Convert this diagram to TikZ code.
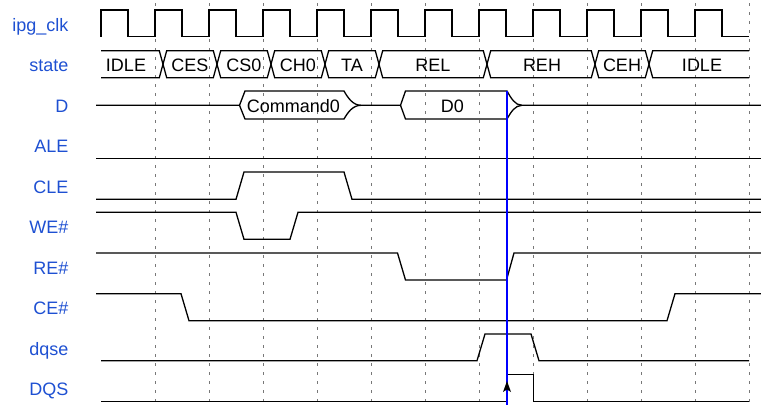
\documentclass[tikz,border=0pt]{standalone}
\usepackage{fontspec}
\setmainfont{Liberation Sans}
\usetikzlibrary{arrows.meta}
\definecolor{lblue}{RGB}{30,80,210}
\definecolor{gridgray}{RGB}{120,120,120}
\begin{document}
\begin{tikzpicture}[x=1pt,y=-1pt,
  lbl/.style={anchor=base east, text=lblue, inner sep=0pt, font=\fontsize{18}{20}\selectfont},
  val/.style={anchor=base, inner sep=0pt, font=\fontsize{18}{20}\selectfont},
  sig/.style={line width=1.3pt, line join=miter},
  gridline/.style={gridgray, line width=0.6pt, dash pattern=on 2.5pt off 6.5pt},
  marker/.style={blue, line width=1.6pt}]
\useasboundingbox (0,0) rectangle (761,405);
% grid
\foreach \k in {0,...,11}{
  \draw[gridline] ({155+54*\k},3) -- ({155+54*\k},405);
}
% labels
\node[lbl] (lclk) at (68.5,31.2) {ipg\_clk};
\node[lbl] (lstate) at (68.5,71.7) {state};
\node[lbl] (lD) at (68.5,112.2) {D};
\node[lbl] (lALE) at (68.5,152.7) {ALE};
\node[lbl] (lCLE) at (68.5,193.2) {CLE};
\node[lbl] (lWE) at (68.5,233.7) {WE\#};
\node[lbl] (lRE) at (68.5,274.2) {RE\#};
\node[lbl] (lCE) at (68.5,314.7) {CE\#};
\node[lbl] (ldqse) at (68.5,355.2) {dqse};
\node[lbl] (lDQS) at (68.5,395.7) {DQS};
% clock
\draw[sig] (101,36.7) \foreach \k in {0,...,10}{ -- ({101+54*\k},10) -- ({128+54*\k},10) -- ({128+54*\k},36.7) -- ({155+54*\k},36.7)} -- (695,10) -- (722,10) -- (722,36.7) -- (749,36.7);
% state bus
\def\T{50.7}\def\B{77.7}\def\M{64.2}
\draw[sig] (101,\T) -- (159.3,\T) -- (163,\M) -- (159.3,\B) -- (101,\B);
\foreach \a/\b in {163/217,217/271,271/325,325/379,379/487,487/595,595/649}{
  \draw[sig] (\a,\M) -- ({\a+3.7},\T) -- ({\b-3.7},\T) -- (\b,\M) -- ({\b-3.7},\B) -- ({\a+3.7},\B) -- cycle;
}
\draw[sig] (749,\T) -- (652.7,\T) -- (649,\M) -- (652.7,\B) -- (749,\B);
\node[val] (s1) at (126,71.7) {IDLE};
\node[val] (s2) at (190,71.7) {CES};
\node[val] (s3) at (244,71.7) {CS0};
\node[val] (s4) at (298,71.7) {CH0};
\node[val] (s5) at (352,71.7) {TA};
\node[val] (s6) at (433,71.7) {REL};
\node[val] (s7) at (542,71.7) {REH};
\node[val] (s8) at (622,71.7) {CEH};
\node[val] (s9) at (702,71.7) {IDLE};
% D bus
\def\DT{91}\def\DB{119}\def\DM{105.3}
\draw[sig] (96,\DM) -- (239.5,\DM) -- (245,\DT) -- (344,\DT) .. controls (348,98) and (353,\DM) .. (361,\DM)
  -- (400.5,\DM) -- (405.5,\DT) -- (507,\DT) .. controls (511,98) and (515,\DM) .. (522,\DM) -- (761,\DM);
\draw[sig] (239.5,\DM) -- (245,\DB) -- (344,\DB) .. controls (348,112) and (353,\DM) .. (361,\DM);
\draw[sig] (400.5,\DM) -- (405.5,\DB) -- (507,\DB) .. controls (511,112) and (515,\DM) .. (522,\DM);
\node[val] (dcmd) at (293.5,112.3) {Command0};
\node[val] (dd0) at (452.5,112.3) {D0};
% control signals
\draw[sig] (96,158.7) -- (761,158.7);
\draw[sig] (96,199.3) -- (236,199.3) -- (244,172) -- (344,172) -- (352,199.3) -- (761,199.3);
\draw[sig] (96,212.3) -- (236,212.3) -- (244,239.3) -- (290,239.3) -- (298,212.3) -- (761,212.3);
\draw[sig] (96,253) -- (397.5,253) -- (405.5,280) -- (506.5,280) -- (514,253) -- (761,253);
\draw[sig] (96,293.7) -- (181,293.7) -- (189,320.7) -- (667,320.7) -- (675,293.7) -- (761,293.7);
\draw[sig] (101,360.7) -- (477,360.7) -- (485,334) -- (531,334) -- (539,360.7) -- (749,360.7);
\draw[sig] (101,401.7) -- (507,401.7) -- (507,374.7) -- (533.5,374.7) -- (533.5,401.7) -- (749,401.7);
% marker
\coordinate (mtop) at (507,\DT);
\coordinate (mbot) at (507,405);
\draw[marker] (mtop) -- (mbot);
\fill[black] (507,381) -- (511,392) -- (507,389.5) -- (503,392) -- cycle;
\end{tikzpicture}
\end{document}
